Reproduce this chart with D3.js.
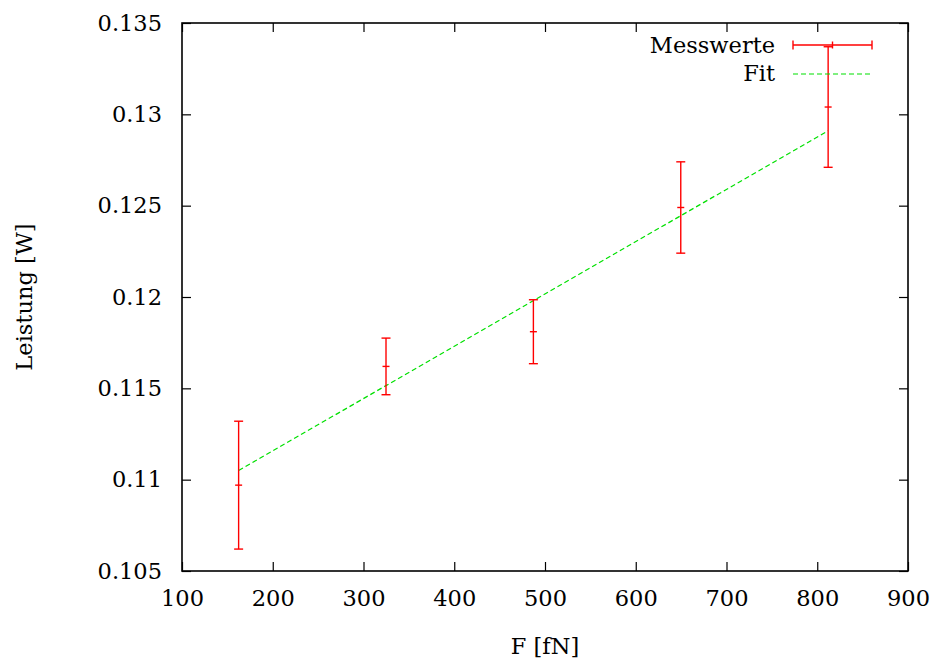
<!DOCTYPE html>
<html>
<head>
<meta charset="utf-8">
<script src="https://cdn.jsdelivr.net/npm/d3@7"></script>
<style>
  html, body { margin: 0; padding: 0; background: #fff; }
</style>
</head>
<body>
<div id="chart"></div>
<script>
// Messwerte
const forceValues = [162.4, 324.8, 487.2, 649.6, 812.0];
const powerValues = [0.1097, 0.1162, 0.1181, 0.1249, 0.1304];
const powerErrors = [0.0035, 0.00155, 0.00175, 0.0025, 0.0033];

// Fit (Endpunkte der Geraden)
const fitForce = [162.4, 812.0];
const fitPower = [0.1105, 0.1291];

// Achsen
const xTicks = [100, 200, 300, 400, 500, 600, 700, 800, 900];
const yTicks = [0.105, 0.11, 0.115, 0.12, 0.125, 0.13, 0.135];
const yTickLabels = ['0.105', '0.11', '0.115', '0.12', '0.125', '0.13', '0.135'];

const width = 936;
const height = 662;
const margin = { top: 23, right: 28, bottom: 91, left: 182 };
const red = '#ff0000';
const green = '#00e000';
const fontFamily = 'DejaVu Serif';
const fontSize = 22.5;

const svg = d3.select('#chart')
    .append('svg')
    .attr('width', width)
    .attr('height', height)
    .style('display', 'block');

svg.append('rect')
    .attr('width', width)
    .attr('height', height)
    .attr('fill', '#fff');

const xScale = d3.scaleLinear()
    .domain([100, 900])
    .range([margin.left, width - margin.right]);

const yScale = d3.scaleLinear()
    .domain([0.105, 0.135])
    .range([height - margin.bottom, margin.top]);

const tickLen = 9;
const plotLeft = xScale(100), plotRight = xScale(900);
const plotTop = yScale(0.135), plotBottom = yScale(0.105);

// Achsen mit Ticks nach innen, auf allen Seiten
svg.append('g')
    .attr('transform', `translate(0,${plotBottom})`)
    .call(d3.axisBottom(xScale).tickValues(xTicks).tickSize(-tickLen).tickPadding(19).tickFormat(d3.format('d')))
    .call(g => g.select('.domain').remove());

svg.append('g')
    .attr('transform', `translate(0,${plotTop})`)
    .call(d3.axisTop(xScale).tickValues(xTicks).tickSize(-tickLen).tickFormat(''))
    .call(g => g.select('.domain').remove());

svg.append('g')
    .attr('transform', `translate(${plotLeft},0)`)
    .call(d3.axisLeft(yScale).tickValues(yTicks).tickSize(-tickLen).tickPadding(20)
        .tickFormat((d, i) => yTickLabels[i]))
    .call(g => g.select('.domain').remove());

svg.append('g')
    .attr('transform', `translate(${plotRight},0)`)
    .call(d3.axisRight(yScale).tickValues(yTicks).tickSize(-tickLen).tickFormat(''))
    .call(g => g.select('.domain').remove());

svg.selectAll('.tick line')
    .attr('stroke', '#000')
    .attr('stroke-width', 1.2);

svg.selectAll('.tick text')
    .attr('fill', '#000')
    .attr('font-size', fontSize)
    .attr('font-family', fontFamily);

// Rahmen
svg.append('rect')
    .attr('x', plotLeft)
    .attr('y', plotTop)
    .attr('width', plotRight - plotLeft)
    .attr('height', plotBottom - plotTop)
    .attr('fill', 'none')
    .attr('stroke', '#000')
    .attr('stroke-width', 1.6);

// Fit-Gerade
const line = d3.line()
    .x(d => xScale(d[0]))
    .y(d => yScale(d[1]));

svg.append('path')
    .datum(fitForce.map((f, i) => [f, fitPower[i]]))
    .attr('d', line)
    .attr('fill', 'none')
    .attr('stroke', green)
    .attr('stroke-width', 1.2)
    .attr('stroke-dasharray', '5,3');

// Fehlerbalken
const cap = 4.5;
const mark = 3.5;
const bars = svg.append('g')
    .attr('stroke', red)
    .attr('stroke-width', 1.4)
    .selectAll('g')
    .data(forceValues)
    .enter()
    .append('g');

bars.append('line')
    .attr('x1', d => xScale(d))
    .attr('x2', d => xScale(d))
    .attr('y1', (d, i) => yScale(powerValues[i] - powerErrors[i]))
    .attr('y2', (d, i) => yScale(powerValues[i] + powerErrors[i]));

bars.append('line')
    .attr('x1', d => xScale(d) - cap)
    .attr('x2', d => xScale(d) + cap)
    .attr('y1', (d, i) => yScale(powerValues[i] + powerErrors[i]))
    .attr('y2', (d, i) => yScale(powerValues[i] + powerErrors[i]));

bars.append('line')
    .attr('x1', d => xScale(d) - cap)
    .attr('x2', d => xScale(d) + cap)
    .attr('y1', (d, i) => yScale(powerValues[i] - powerErrors[i]))
    .attr('y2', (d, i) => yScale(powerValues[i] - powerErrors[i]));

bars.append('line')
    .attr('x1', d => xScale(d) - mark)
    .attr('x2', d => xScale(d) + mark)
    .attr('y1', (d, i) => yScale(powerValues[i]))
    .attr('y2', (d, i) => yScale(powerValues[i]));

// Legende
const legend = svg.append('g')
    .attr('font-family', fontFamily)
    .attr('font-size', fontSize);
const lx1 = 793, lx2 = 872, lxm = 832.5;

legend.append('text')
    .attr('x', 775).attr('y', 53)
    .attr('text-anchor', 'end')
    .text('Messwerte');

legend.append('text')
    .attr('x', 775).attr('y', 81)
    .attr('text-anchor', 'end')
    .text('Fit');

const lg = legend.append('g').attr('stroke', red).attr('stroke-width', 1.4);
lg.append('line').attr('x1', lx1).attr('x2', lx2).attr('y1', 45).attr('y2', 45);
lg.append('line').attr('x1', lx1).attr('x2', lx1).attr('y1', 45 - cap).attr('y2', 45 + cap);
lg.append('line').attr('x1', lx2).attr('x2', lx2).attr('y1', 45 - cap).attr('y2', 45 + cap);
lg.append('line').attr('x1', lxm).attr('x2', lxm).attr('y1', 45 - mark).attr('y2', 45 + mark);

legend.append('line')
    .attr('x1', lx1).attr('x2', lx2)
    .attr('y1', 74).attr('y2', 74)
    .attr('stroke', green)
    .attr('stroke-width', 1.2)
    .attr('stroke-dasharray', '5,3');

// Achsentitel
svg.append('text')
    .attr('x', (plotLeft + plotRight) / 2)
    .attr('y', 654)
    .attr('text-anchor', 'middle')
    .attr('font-family', fontFamily)
    .attr('font-size', fontSize)
    .text('F [fN]');

svg.append('text')
    .attr('transform', `translate(32,${(plotTop + plotBottom) / 2}) rotate(-90)`)
    .attr('text-anchor', 'middle')
    .attr('font-family', fontFamily)
    .attr('font-size', fontSize)
    .text('Leistung [W]');
</script>
</body>
</html>
